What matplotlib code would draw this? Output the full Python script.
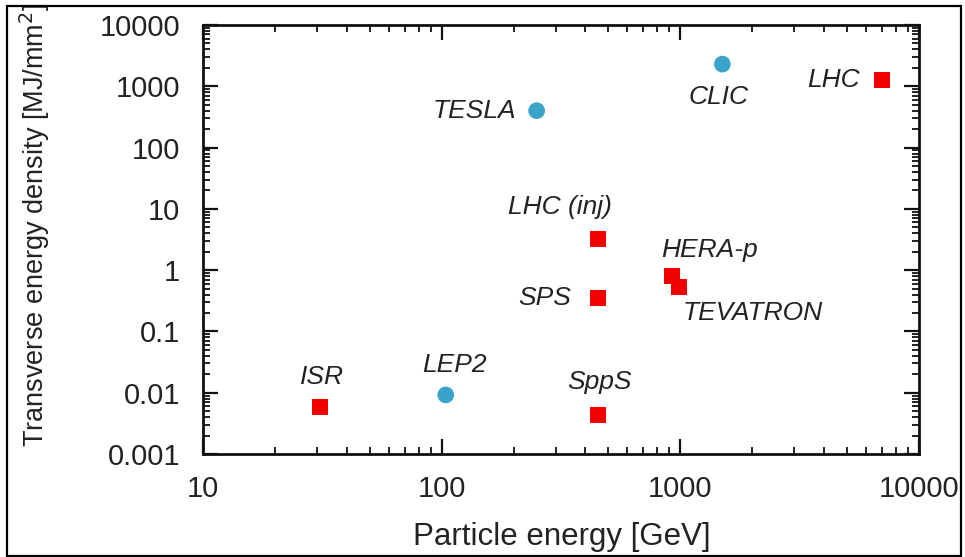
import matplotlib
matplotlib.use("Agg")
import matplotlib.pyplot as plt
from matplotlib.ticker import FixedLocator, FixedFormatter, LogLocator, NullFormatter
from matplotlib.patches import Rectangle

plt.rcParams['font.family'] = ['Liberation Sans', 'DejaVu Sans']

# ---- data ----
red_names = ["ISR", "SppS", "SPS", "LHC (inj)", "HERA-p", "TEVATRON", "LHC"]
red_energy = [31, 450, 450, 450, 920, 990, 7000]
red_density = [0.0059, 0.0044, 0.35, 3.2, 0.80, 0.54, 1270]

blue_names = ["LEP2", "TESLA", "CLIC"]
blue_energy = [104, 250, 1500]
blue_density = [0.0092, 400, 2300]

x_ticks = [10, 100, 1000, 10000]
x_ticklabels = ["10", "100", "1000", "10000"]
y_ticks = [0.001, 0.01, 0.1, 1, 10, 100, 1000, 10000]
y_ticklabels = ["0.001", "0.01", "0.1", "1", "10", "100", "1000", "10000"]

# label offsets in pixels (dx, dy, ha)
label_offsets = {
    "ISR": (2, 30, "center"),
    "SppS": (2, 33, "center"),
    "SPS": (-26, 0, "right"),
    "LHC (inj)": (-38, 32, "center"),
    "HERA-p": (38, 26, "center"),
    "TEVATRON": (3, -26, "left"),
    "LHC": (-22, 0, "right"),
    "LEP2": (9, 30, "center"),
    "TESLA": (-20, 0, "right"),
    "CLIC": (-4, -33, "center"),
}

W, H, DPI = 965, 557, 100
fig = plt.figure(figsize=(W / DPI, H / DPI), dpi=DPI)
ax = fig.add_axes([203 / W, 1 - 454 / H, (919 - 203) / W, (454 - 25) / H])

ax.set_xscale("log")
ax.set_yscale("log")
ax.set_xlim(10, 10000)
ax.set_ylim(0.001, 10000)

ax.scatter(red_energy, red_density, marker="s", s=11.5 ** 2, color="#f20000",
           edgecolors="none", zorder=3)
ax.scatter(blue_energy, blue_density, marker="o", s=12 ** 2, color="#3aa3c9",
           edgecolors="none", zorder=3)

for names, xs, ys in ((red_names, red_energy, red_density),
                      (blue_names, blue_energy, blue_density)):
    for n, xv, yv in zip(names, xs, ys):
        dx, dy, ha = label_offsets[n]
        ax.annotate(n, (xv, yv), xytext=(dx * 0.72, dy * 0.72),
                    textcoords="offset points", ha=ha, va="center",
                    fontsize=19, style="italic", color="#222222")

ax.xaxis.set_major_locator(FixedLocator(x_ticks))
ax.xaxis.set_major_formatter(FixedFormatter(x_ticklabels))
ax.yaxis.set_major_locator(FixedLocator(y_ticks))
ax.yaxis.set_major_formatter(FixedFormatter(y_ticklabels))
ax.xaxis.set_minor_locator(LogLocator(base=10, subs=range(2, 10), numticks=20))
ax.yaxis.set_minor_locator(LogLocator(base=10, subs=range(2, 10), numticks=20))
ax.xaxis.set_minor_formatter(NullFormatter())
ax.yaxis.set_minor_formatter(NullFormatter())

ax.tick_params(which="both", direction="in", top=True, right=True, color="#111111")
ax.tick_params(which="major", length=11, width=1.6, labelsize=21, labelcolor="#222222")
ax.tick_params(axis="y", which="major", pad=16.5)
ax.tick_params(axis="x", which="major", pad=15)
ax.tick_params(which="minor", length=5, width=1.3)
for sp in ax.spines.values():
    sp.set_linewidth(2)
    sp.set_color("#111111")

ax.set_xlabel("Particle energy [GeV]", fontsize=22.5, color="#222222")
ax.xaxis.set_label_coords(0.501, -0.158)
ax.set_ylabel("Transverse energy density [MJ/mm$^2$]", fontsize=19.5, color="#222222")
ax.yaxis.set_label_coords(-0.211, 0.534)

fig.patches.append(Rectangle((7 / W, 1 - 556 / H), (961 - 7) / W, (556 - 6) / H,
                             transform=fig.transFigure, fill=False,
                             edgecolor="black", linewidth=1.6))

fig.savefig("out.png", dpi=DPI)
